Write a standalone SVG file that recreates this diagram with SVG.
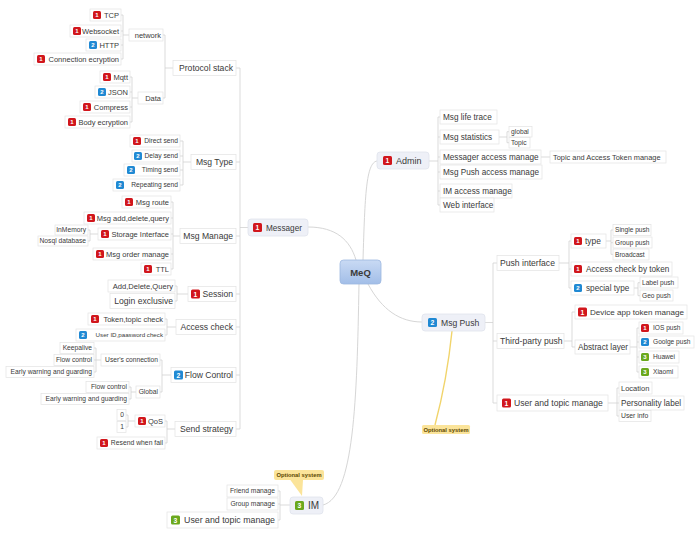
<svg xmlns="http://www.w3.org/2000/svg" width="700" height="534" viewBox="0 0 700 534">
<defs>
<linearGradient id="gc" x1="0" y1="0" x2="0" y2="1"><stop offset="0" stop-color="#c9daf4"/><stop offset="1" stop-color="#a2bee8"/></linearGradient>
</defs>
<style>
text{font-family:"Liberation Sans",Arial,sans-serif;fill:#3a3a3a}
.bx{fill:#fff;stroke:#e3e3e3;stroke-width:.7}
.mb{fill:#eef0f7;stroke:#dfe3ec;stroke-width:.8}
.ln{fill:none;stroke:#d2d2d2;stroke-width:.8}
.cv{fill:none;stroke:#d6d6d6;stroke-width:1}
.r{fill:#d1161c}.b{fill:#2089d3}.g{fill:#6aa81c}
.n{fill:#fff;font-weight:bold;font-size:6px;text-anchor:middle}
.n9{fill:#fff;font-weight:bold;font-size:6.8px;text-anchor:middle}
.a{font-size:7.5px}
.a7{font-size:6.7px}
.s{font-size:6.7px}
.m{font-size:8.6px}
.ad{font-size:8.2px}
.e{text-anchor:end}
.opt{fill:#fbe49a}
.ot{font-size:5.8px;font-weight:bold;fill:#5b4800;text-anchor:middle}
</style>
<rect width="700" height="534" fill="#fff"/>
<g id="connectors">
<path class="cv" d="M308,227 C336,227 350,240 356,260"/>
<path class="cv" d="M363,260 C365,195 366,163 377,161"/>
<path class="cv" d="M368,284 C382,310 400,322 422,322"/>
<path class="cv" d="M359,284 C357,400 354,497 323,505"/>
<path d="M452,331 Q447,380 435,425" fill="none" stroke="#f1d46b" stroke-width="1.4"/>
<path class="ln" d="M248,227.5H240 M240,68V429 M240,68H236 M240,162H236 M240,236H236 M240,294H236 M240,327H236 M240,375H236 M240,429H236"/>
<path class="ln" d="M173,68H165 M165,35V98 M165,35H163 M165,98H163"/>
<path class="ln" d="M129,35H123 M123,15V59 M123,15H121 M123,31H121 M123,45H121 M123,59H121"/>
<path class="ln" d="M138,98H132 M132,77V122 M132,77H130 M132,92H130 M132,107H130 M132,122H130"/>
<path class="ln" d="M191,162H183 M183,141V185 M183,141H180 M183,156H180 M183,170H180 M183,185H180"/>
<path class="ln" d="M180,236H173 M173,202V269 M173,202H171 M173,218H171 M173,234H171 M173,254H171 M173,269H171"/>
<path class="ln" d="M98,234H90 M90,230V241 M90,230H88 M90,241H88"/>
<path class="ln" d="M188,294H177 M177,286V301 M177,286H175 M177,301H175"/>
<path class="ln" d="M176,327H167 M167,319V335 M167,319H165 M167,335H165"/>
<path class="ln" d="M171,375H162 M162,360V392 M162,360H160 M162,392H160"/>
<path class="ln" d="M101,360H96 M96,348V372 M96,348H94 M96,360H94 M96,372H94"/>
<path class="ln" d="M136,392H131 M131,387V399 M131,387H129 M131,399H129"/>
<path class="ln" d="M175,429H167 M167,421V443 M167,421H165 M167,443H165"/>
<path class="ln" d="M135,421H128 M128,415V427 M128,415H126 M128,427H126"/>
<path class="ln" d="M290,505H280 M280,491V520 M280,491H278 M280,504H278 M280,520H278"/>
<path class="ln" d="M429,161H438 M438,117V205 M438,117H440 M438,137H440 M438,157H440 M438,172H440 M438,191H440 M438,205H440"/>
<path class="ln" d="M499,137H507 M507,131.7V142.7 M507,131.7H509 M507,142.7H509"/>
<path class="ln" d="M541,157H550"/>
<path class="ln" d="M485,322.5H493 M493,263V403 M493,263H497 M493,341H497 M493,403H497"/>
<path class="ln" d="M559,263H569 M569,241V288 M569,241H571 M569,269H571 M569,288H571"/>
<path class="ln" d="M606,241H611 M611,230V254.3 M611,230H613 M611,242.7H613 M611,254.3H613"/>
<path class="ln" d="M634,288H638 M638,282.7V295.7 M638,282.7H640 M638,295.7H640"/>
<path class="ln" d="M564,341H572 M572,312V347 M572,312H575 M572,347H575"/>
<path class="ln" d="M630,347H637 M637,328V372 M637,328H639 M637,342H639 M637,357H639 M637,372H639"/>
<path class="ln" d="M608,403H617 M617,388V416 M617,388H619 M617,403H619 M617,416H619"/>
</g>
<g id="meq"><rect x="340" y="260" width="41" height="24" rx="3.5" fill="url(#gc)" stroke="#9db7df" stroke-width=".8"/><text x="360.5" y="275.5" font-size="9.5" font-weight="bold" text-anchor="middle" fill="#2c3440">MeQ</text></g>
<g id="messager"><rect class="mb" x="248" y="219" width="60" height="17" rx="3"/><rect class="r" x="253" y="223" width="9" height="9" rx="1.5"/><text class="n9" x="257.5" y="230">1</text><text x="266" y="230.5" font-size="8.2">Messager</text></g>
<g id="protocol-stack"><rect class="bx" x="173" y="60.5" width="63" height="15"/><text class="m e" x="233" y="71">Protocol stack</text></g>
<g id="network"><rect class="bx" x="129" y="29" width="34" height="12"/><text class="a e" x="161" y="37.6">network</text></g>
<g id="data"><rect class="bx" x="138" y="92" width="25" height="12"/><text class="a e" x="161" y="100.6">Data</text></g>
<g id="tcp"><rect class="bx" x="90" y="9" width="31" height="12"/><rect class="r" x="93" y="11" width="8" height="8" rx="1.5"/><text class="n" x="97" y="17.2">1</text><text class="a e" x="119" y="17.6">TCP</text></g>
<g id="websocket"><rect class="bx" x="70" y="25" width="51" height="12"/><rect class="r" x="73" y="27" width="8" height="8" rx="1.5"/><text class="n" x="77" y="33.2">1</text><text class="a e" x="119" y="33.6">Websocket</text></g>
<g id="http"><rect class="bx" x="86" y="39" width="35" height="12"/><rect class="b" x="89" y="41" width="8" height="8" rx="1.5"/><text class="n" x="93" y="47.2">2</text><text class="a e" x="119" y="47.6">HTTP</text></g>
<g id="conn-ecryption"><rect class="bx" x="34" y="53" width="87" height="12"/><rect class="r" x="37" y="55" width="8" height="8" rx="1.5"/><text class="n" x="41" y="61.2">1</text><text class="a e" x="119" y="61.6">Connection ecryption</text></g>
<g id="mqtt"><rect class="bx" x="100" y="71" width="30" height="12"/><rect class="r" x="103" y="73" width="8" height="8" rx="1.5"/><text class="n" x="107" y="79.2">1</text><text class="a e" x="128" y="79.6">Mqtt</text></g>
<g id="json"><rect class="bx" x="95" y="86" width="35" height="12"/><rect class="b" x="98" y="88" width="8" height="8" rx="1.5"/><text class="n" x="102" y="94.2">2</text><text class="a e" x="128" y="94.6">JSON</text></g>
<g id="compress"><rect class="bx" x="80" y="101" width="50" height="12"/><rect class="r" x="83" y="103" width="8" height="8" rx="1.5"/><text class="n" x="87" y="109.2">1</text><text class="a e" x="128" y="109.6">Compress</text></g>
<g id="body-ecryption"><rect class="bx" x="65" y="116" width="65" height="12"/><rect class="r" x="68" y="118" width="8" height="8" rx="1.5"/><text class="n" x="72" y="124.2">1</text><text class="a e" x="128" y="124.6">Body ecryption</text></g>
<g id="msg-type"><rect class="bx" x="191" y="154.5" width="45" height="15"/><text class="m e" x="233" y="165">Msg Type</text></g>
<g id="direct-send"><rect class="bx" x="130" y="135" width="50" height="12"/><rect class="r" x="133" y="137" width="8" height="8" rx="1.5"/><text class="n" x="137" y="143.2">1</text><text class="a7 e" x="178" y="143.4">Direct send</text></g>
<g id="delay-send"><rect class="bx" x="132" y="150" width="48" height="12"/><rect class="b" x="134" y="152" width="8" height="8" rx="1.5"/><text class="n" x="138" y="158.2">2</text><text class="a7 e" x="178" y="158.4">Delay send</text></g>
<g id="timing-send"><rect class="bx" x="124" y="164" width="56" height="12"/><rect class="b" x="127" y="166" width="8" height="8" rx="1.5"/><text class="n" x="131" y="172.2">2</text><text class="a7 e" x="178" y="172.4">Timing send</text></g>
<g id="repeating-send"><rect class="bx" x="113" y="179" width="67" height="12"/><rect class="b" x="116" y="181" width="8" height="8" rx="1.5"/><text class="n" x="120" y="187.2">2</text><text class="a7 e" x="178" y="187.4">Repeating send</text></g>
<g id="msg-manage"><rect class="bx" x="180" y="228.5" width="56" height="15"/><text class="m e" x="233" y="239">Msg Manage</text></g>
<g id="msg-route"><rect class="bx" x="122" y="196" width="49" height="12"/><rect class="r" x="125" y="198" width="8" height="8" rx="1.5"/><text class="n" x="129" y="204.2">1</text><text class="a e" x="169" y="204.6">Msg route</text></g>
<g id="msg-adq"><rect class="bx" x="84" y="212" width="87" height="12"/><rect class="r" x="87" y="214" width="8" height="8" rx="1.5"/><text class="n" x="91" y="220.2">1</text><text class="a e" x="169" y="220.6">Msg add,delete,query</text></g>
<g id="storage"><rect class="bx" x="98" y="228" width="73" height="12"/><rect class="r" x="101" y="230" width="8" height="8" rx="1.5"/><text class="n" x="105" y="236.2">1</text><text class="a e" x="169" y="236.6">Storage Interface</text></g>
<g id="msg-order"><rect class="bx" x="93" y="248" width="78" height="12"/><rect class="r" x="96" y="250" width="8" height="8" rx="1.5"/><text class="n" x="100" y="256.2">1</text><text class="a e" x="169" y="256.6">Msg order manage</text></g>
<g id="ttl"><rect class="bx" x="141" y="263" width="30" height="12"/><rect class="r" x="144" y="265" width="8" height="8" rx="1.5"/><text class="n" x="148" y="271.2">1</text><text class="a e" x="169" y="271.6">TTL</text></g>
<g id="inmemory"><rect class="bx" x="55" y="225" width="33" height="10"/><text class="s e" x="86" y="232.3">InMemory</text></g>
<g id="nosql"><rect class="bx" x="38" y="236" width="50" height="10"/><text class="s e" x="86" y="243.3">Nosql database</text></g>
<g id="session"><rect class="bx" x="188" y="286.5" width="48" height="15"/><rect class="r" x="191" y="289.5" width="9" height="9" rx="1.5"/><text class="n9" x="195.5" y="296.5">1</text><text class="m e" x="233" y="297">Session</text></g>
<g id="adq"><rect class="bx" x="108" y="280" width="67" height="12"/><text class="e" x="173" y="288.7" font-size="7.6">Add,Delete,Query</text></g>
<g id="login-exclusive"><rect class="bx" x="110" y="293.5" width="65" height="15"/><text class="m e" x="173" y="304">Login exclusive</text></g>
<g id="access-check"><rect class="bx" x="176" y="319.5" width="60" height="15"/><text class="m e" x="233" y="330">Access check</text></g>
<g id="token-check"><rect class="bx" x="88" y="313" width="77" height="12"/><rect class="r" x="91" y="315" width="8" height="8" rx="1.5"/><text class="n" x="95" y="321.2">1</text><text class="a e" x="163" y="321.6">Token,topic check</text></g>
<g id="user-check"><rect class="bx" x="76" y="329" width="89" height="12"/><rect class="b" x="79" y="331" width="8" height="8" rx="1.5"/><text class="n" x="83" y="337.2">2</text><text class="e" x="163" y="337.3" font-size="6.2">User ID,paasword check</text></g>
<g id="flow-control"><rect class="bx" x="171" y="367.5" width="65" height="15"/><rect class="b" x="174" y="370.5" width="9" height="9" rx="1.5"/><text class="n9" x="178.5" y="377.5">2</text><text class="m e" x="233" y="378">Flow Control</text></g>
<g id="users-connection"><rect class="bx" x="101" y="354" width="59" height="12"/><text class="s e" x="158" y="362.3">User's connection</text></g>
<g id="global-fc"><rect class="bx" x="136" y="386" width="24" height="12"/><text class="s e" x="158" y="394.3">Global</text></g>
<g id="keepalive"><rect class="bx" x="60" y="342.5" width="34" height="11"/><text class="s e" x="92" y="350.3">Keepalive</text></g>
<g id="flow-control-1"><rect class="bx" x="54" y="354.5" width="40" height="11"/><text class="s e" x="92" y="362.3">Flow control</text></g>
<g id="early-1"><rect class="bx" x="6" y="366.5" width="88" height="11"/><text class="s e" x="92" y="374.3">Early warning and guarding</text></g>
<g id="flow-control-2"><rect class="bx" x="86" y="381.5" width="43" height="11"/><text class="s e" x="127" y="389.3">Flow control</text></g>
<g id="early-2"><rect class="bx" x="41" y="393.5" width="88" height="11"/><text class="s e" x="127" y="401.3">Early warning and guarding</text></g>
<g id="send-strategy"><rect class="bx" x="175" y="421.5" width="61" height="15"/><text class="m e" x="233" y="432">Send strategy</text></g>
<g id="qos"><rect class="bx" x="135" y="415" width="30" height="12"/><rect class="r" x="138" y="417" width="8" height="8" rx="1.5"/><text class="n" x="142" y="423.2">1</text><text class="a e" x="163" y="423.6">QoS</text></g>
<g id="qos-0"><rect class="bx" x="117" y="409.5" width="9" height="11"/><text class="s e" x="124" y="417.3">0</text></g>
<g id="qos-1"><rect class="bx" x="117" y="421.5" width="9" height="11"/><text class="s e" x="124" y="429.3">1</text></g>
<g id="resend"><rect class="bx" x="97" y="437" width="68" height="12"/><rect class="r" x="100" y="439" width="8" height="8" rx="1.5"/><text class="n" x="104" y="445.2">1</text><text class="e" x="163" y="445.4" font-size="6.8">Resend when fail</text></g>
<g id="im"><rect class="mb" x="290" y="497" width="33" height="17" rx="3"/><rect class="g" x="295" y="501" width="9" height="9" rx="1.5"/><text class="n9" x="299.5" y="508">3</text><text x="308" y="509" font-size="10">IM</text></g>
<g id="im-optional"><rect class="opt" x="274" y="470" width="50" height="10" rx="2"/><polygon class="opt" points="290,479.5 303,479.5 302,496"/><text class="ot" x="299" y="477.2">Optional system</text></g>
<g id="friend-manage"><rect class="bx" x="227" y="485" width="51" height="12"/><text class="s e" x="275" y="493.3">Friend manage</text></g>
<g id="group-manage"><rect class="bx" x="227" y="498" width="51" height="12"/><text class="s e" x="275" y="506.3">Group manage</text></g>
<g id="im-user-topic"><rect class="bx" x="167" y="512" width="111" height="16"/><rect class="g" x="171" y="515.5" width="9" height="9" rx="1.5"/><text class="n9" x="175.5" y="522.5">3</text><text class="e" x="275" y="523.2" font-size="8.8">User and topic manage</text></g>
<g id="admin"><rect class="mb" x="377" y="152" width="52" height="17" rx="3"/><rect class="r" x="383" y="156" width="9" height="9" rx="1.5"/><text class="n9" x="387.5" y="163">1</text><text x="396" y="164.2" font-size="9">Admin</text></g>
<g id="life-trace"><rect class="bx" x="440" y="110" width="57" height="14"/><text class="ad" x="443" y="119.9">Msg life trace</text></g>
<g id="statistics"><rect class="bx" x="440" y="130" width="59" height="14"/><text class="ad" x="443" y="139.9">Msg statistics</text></g>
<g id="global-st"><rect class="bx" x="509" y="126.5" width="23" height="10.5"/><text class="s" x="511" y="134">global</text></g>
<g id="topic-st"><rect class="bx" x="509" y="137.5" width="21" height="10.5"/><text class="s" x="511" y="145">Topic</text></g>
<g id="messager-access"><rect class="bx" x="440" y="150" width="101" height="14"/><text class="ad" x="443" y="159.9">Messager access manage</text></g>
<g id="token-manage"><rect class="bx" x="550" y="151" width="116" height="12"/><text x="553" y="159.6" font-size="7.4">Topic and Access Token manage</text></g>
<g id="push-access"><rect class="bx" x="440" y="165" width="102" height="14"/><text class="ad" x="443" y="174.9">Msg Push access manage</text></g>
<g id="im-access"><rect class="bx" x="440" y="184" width="72" height="14"/><text class="ad" x="443" y="193.9">IM access manage</text></g>
<g id="web-interface"><rect class="bx" x="440" y="198" width="54" height="14"/><text class="ad" x="443" y="207.9">Web interface</text></g>
<g id="msg-push"><rect class="mb" x="422" y="314" width="63" height="17" rx="3"/><rect class="b" x="428" y="318" width="9" height="9" rx="1.5"/><text class="n9" x="432.5" y="325">2</text><text x="441" y="325.8" font-size="8.6">Msg Push</text></g>
<g id="push-optional"><rect class="opt" x="422" y="425" width="48" height="9" rx="1.5"/><text class="ot" x="446" y="431.6">Optional system</text></g>
<g id="push-interface"><rect class="bx" x="497" y="255.5" width="62" height="15"/><text class="m" x="500" y="266">Push interface</text></g>
<g id="type"><rect class="bx" x="571" y="234" width="35" height="14"/><rect class="r" x="574" y="237" width="8" height="8" rx="1.5"/><text class="n" x="578" y="243.2">1</text><text x="585" y="244" font-size="8.4">type</text></g>
<g id="single-push"><rect class="bx" x="613" y="224.5" width="38" height="11"/><text x="615" y="232.3" font-size="6.6">Single push</text></g>
<g id="group-push"><rect class="bx" x="613" y="237" width="39" height="11"/><text x="615" y="245" font-size="6.6">Group push</text></g>
<g id="broadcast"><rect class="bx" x="613" y="249" width="36" height="11"/><text x="615" y="256.6" font-size="6.6">Broadcast</text></g>
<g id="access-token"><rect class="bx" x="571" y="262" width="101" height="14"/><rect class="r" x="574" y="265" width="8" height="8" rx="1.5"/><text class="n" x="578" y="271.2">1</text><text class="ad" x="586" y="272">Access check by token</text></g>
<g id="special-type"><rect class="bx" x="571" y="281" width="63" height="14"/><rect class="b" x="574" y="284" width="8" height="8" rx="1.5"/><text class="n" x="578" y="290.2">2</text><text class="ad" x="586" y="291">special type</text></g>
<g id="label-push"><rect class="bx" x="640" y="277" width="38" height="11"/><text x="642" y="285" font-size="6.6">Label push</text></g>
<g id="geo-push"><rect class="bx" x="640" y="290" width="33" height="11"/><text x="642" y="298" font-size="6.6">Geo push</text></g>
<g id="third-party"><rect class="bx" x="497" y="333.5" width="67" height="15"/><text class="m" x="500" y="344">Third-party push</text></g>
<g id="device-token"><rect class="bx" x="575" y="305" width="112" height="14"/><rect class="r" x="578" y="307.5" width="9" height="9" rx="1.5"/><text class="n9" x="582.5" y="314.5">1</text><text x="590" y="315" font-size="8.1">Device app token manage</text></g>
<g id="abstract-layer"><rect class="bx" x="575" y="340" width="55" height="14"/><text class="ad" x="578" y="350">Abstract layer</text></g>
<g id="ios-push"><rect class="bx" x="639" y="322" width="44" height="12"/><rect class="r" x="641" y="324" width="8" height="8" rx="1.5"/><text class="n" x="645" y="330.2">1</text><text x="653" y="330.3" font-size="6.6">IOS push</text></g>
<g id="google-push"><rect class="bx" x="639" y="336" width="55" height="12"/><rect class="b" x="641" y="338" width="8" height="8" rx="1.5"/><text class="n" x="645" y="344.2">2</text><text x="653" y="344.3" font-size="6.6">Goolge push</text></g>
<g id="huawei"><rect class="bx" x="639" y="351" width="40" height="12"/><rect class="g" x="641" y="353" width="8" height="8" rx="1.5"/><text class="n" x="645" y="359.2">3</text><text x="653" y="359.3" font-size="6.6">Huawei</text></g>
<g id="xiaomi"><rect class="bx" x="639" y="366" width="39" height="12"/><rect class="g" x="641" y="368" width="8" height="8" rx="1.5"/><text class="n" x="645" y="374.2">3</text><text x="653" y="374.3" font-size="6.6">Xiaomi</text></g>
<g id="push-user-topic"><rect class="bx" x="497" y="395" width="111" height="16"/><rect class="r" x="502" y="398.5" width="9" height="9" rx="1.5"/><text class="n9" x="506.5" y="405.5">1</text><text class="m" x="514" y="406">User and topic manage</text></g>
<g id="location"><rect class="bx" x="619" y="382" width="33" height="12"/><text x="621" y="390.6" font-size="7.5">Location</text></g>
<g id="personality"><rect class="bx" x="619" y="396" width="65" height="14"/><text class="ad" x="621" y="406">Personality label</text></g>
<g id="user-info"><rect class="bx" x="619" y="410.5" width="32" height="11"/><text x="621" y="418.4" font-size="6.8">User info</text></g>
</svg>
